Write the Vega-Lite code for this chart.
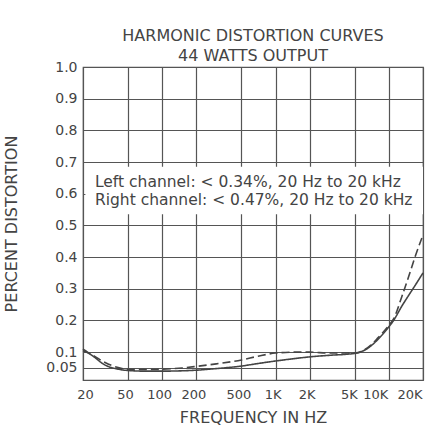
{
  "$schema": "https://vega.github.io/schema/vega-lite/v6.json",
  "width": 340,
  "height": 313,
  "autosize": "none",
  "padding": {"left": 83, "top": 67, "right": 8, "bottom": 53},
  "background": "white",
  "config": {
    "font": "DejaVu Sans",
    "view": {"stroke": "#555", "strokeWidth": 1.2}
  },
  "title": {
    "text": ["HARMONIC DISTORTION CURVES", "44 WATTS OUTPUT"],
    "fontSize": 16,
    "fontWeight": "normal",
    "color": "#444",
    "anchor": "middle",
    "lineHeight": 20,
    "offset": -4
  },
  "datasets": {
    "curves": [
      {"freq": 20, "dist": 0.11, "channel": "Left"},
      {"freq": 25, "dist": 0.085, "channel": "Left"},
      {"freq": 31, "dist": 0.06, "channel": "Left"},
      {"freq": 40, "dist": 0.047, "channel": "Left"},
      {"freq": 50, "dist": 0.042, "channel": "Left"},
      {"freq": 70, "dist": 0.04, "channel": "Left"},
      {"freq": 100, "dist": 0.04, "channel": "Left"},
      {"freq": 150, "dist": 0.041, "channel": "Left"},
      {"freq": 200, "dist": 0.043, "channel": "Left"},
      {"freq": 300, "dist": 0.048, "channel": "Left"},
      {"freq": 500, "dist": 0.056, "channel": "Left"},
      {"freq": 700, "dist": 0.064, "channel": "Left"},
      {"freq": 1000, "dist": 0.072, "channel": "Left"},
      {"freq": 1500, "dist": 0.08, "channel": "Left"},
      {"freq": 2000, "dist": 0.085, "channel": "Left"},
      {"freq": 3000, "dist": 0.09, "channel": "Left"},
      {"freq": 5000, "dist": 0.096, "channel": "Left"},
      {"freq": 6500, "dist": 0.112, "channel": "Left"},
      {"freq": 8000, "dist": 0.14, "channel": "Left"},
      {"freq": 10000, "dist": 0.18, "channel": "Left"},
      {"freq": 11000, "dist": 0.2, "channel": "Left"},
      {"freq": 13000, "dist": 0.245, "channel": "Left"},
      {"freq": 15000, "dist": 0.28, "channel": "Left"},
      {"freq": 17000, "dist": 0.31, "channel": "Left"},
      {"freq": 20000, "dist": 0.35, "channel": "Left"},
      {"freq": 20, "dist": 0.105, "channel": "Right"},
      {"freq": 25, "dist": 0.088, "channel": "Right"},
      {"freq": 31, "dist": 0.068, "channel": "Right"},
      {"freq": 40, "dist": 0.052, "channel": "Right"},
      {"freq": 50, "dist": 0.046, "channel": "Right"},
      {"freq": 70, "dist": 0.045, "channel": "Right"},
      {"freq": 100, "dist": 0.046, "channel": "Right"},
      {"freq": 150, "dist": 0.05, "channel": "Right"},
      {"freq": 200, "dist": 0.055, "channel": "Right"},
      {"freq": 300, "dist": 0.063, "channel": "Right"},
      {"freq": 500, "dist": 0.075, "channel": "Right"},
      {"freq": 700, "dist": 0.087, "channel": "Right"},
      {"freq": 1000, "dist": 0.097, "channel": "Right"},
      {"freq": 1500, "dist": 0.1, "channel": "Right"},
      {"freq": 2000, "dist": 0.1, "channel": "Right"},
      {"freq": 3000, "dist": 0.097, "channel": "Right"},
      {"freq": 5000, "dist": 0.097, "channel": "Right"},
      {"freq": 6500, "dist": 0.114, "channel": "Right"},
      {"freq": 8000, "dist": 0.145, "channel": "Right"},
      {"freq": 10000, "dist": 0.185, "channel": "Right"},
      {"freq": 11000, "dist": 0.205, "channel": "Right"},
      {"freq": 13000, "dist": 0.275, "channel": "Right"},
      {"freq": 15000, "dist": 0.34, "channel": "Right"},
      {"freq": 17000, "dist": 0.4, "channel": "Right"},
      {"freq": 20000, "dist": 0.47, "channel": "Right"}
    ],
    "box": [{"x1": 21, "x2": 20000, "y1": 0.535, "y2": 0.685}],
    "notes": [
      {"freq": 25.5, "dist": 0.621, "label": "Left channel: < 0.34%, 20 Hz to 20 kHz"},
      {"freq": 25.5, "dist": 0.564, "label": "Right channel: < 0.47%, 20 Hz to 20 kHz"}
    ]
  },
  "layer": [
    {
      "data": {"name": "box"},
      "mark": {"type": "rect", "fill": "white"},
      "encoding": {
        "x": {"field": "x1", "type": "quantitative", "scale": {"type": "log", "domain": [20, 20000], "nice": false, "padding": 0},
          "axis": {
            "values": [20, 50, 100, 200, 500, 1000, 2000, 5000, 10000, 20000],
            "tickCount": 30,
            "labelExpr": "datum.value >= 1000 ? (datum.value / 1000) + 'K' : datum.value",
            "title": "FREQUENCY IN HZ",
            "grid": true,
            "gridColor": "#555",
            "gridOpacity": 1,
            "gridWidth": 1.2,
            "domain": false,
            "ticks": false,
            "labelPadding": 8,
            "labelFontSize": 13,
            "labelColor": "#444",
            "labelFlush": false,
            "labelOverlap": false,
            "labelAlign": {"condition": {"test": "datum.value >= 10000", "value": "right"}, "value": "center"},
            "labelOffset": {"condition": [
              {"test": "datum.value == 20", "value": 2},
              {"test": "datum.value == 5000", "value": -6},
              {"test": "datum.value >= 10000", "value": -1}
            ], "value": -3},
            "titleFontSize": 16,
            "titleFontWeight": "normal",
            "titleColor": "#444",
            "titlePadding": 8
          }
        },
        "x2": {"field": "x2"},
        "y": {"field": "y1", "type": "quantitative", "scale": {"domain": [0.012, 1.0], "nice": false, "zero": false, "padding": 0},
          "axis": {
            "values": [0.05, 0.1, 0.2, 0.3, 0.4, 0.5, 0.6, 0.7, 0.8, 0.9, 1.0],
            "tickCount": 30,
            "format": ".2~f",
            "labelExpr": "datum.value >= 1 ? '1.0' : datum.label",
            "title": "PERCENT DISTORTION",
            "grid": true,
            "gridColor": "#555",
            "gridOpacity": 1,
            "gridWidth": 1.2,
            "domain": false,
            "ticks": false,
            "labelPadding": 6,
            "labelFontSize": 14,
            "labelColor": "#444",
            "labelFlush": false,
            "labelOverlap": false,
            "titleFontSize": 16,
            "titleFontWeight": "normal",
            "titleColor": "#444",
            "titlePadding": 26
          }
        },
        "y2": {"field": "y2"}
      }
    },
    {
      "data": {"name": "curves"},
      "mark": {"type": "line", "interpolate": "monotone", "color": "#444", "strokeWidth": 1.6},
      "encoding": {
        "x": {"field": "freq", "type": "quantitative"},
        "y": {"field": "dist", "type": "quantitative"},
        "detail": {"field": "channel"},
        "strokeDash": {
          "field": "channel", "type": "nominal",
          "scale": {"domain": ["Left", "Right"], "range": [[1, 0], [8, 4]]},
          "legend": null
        }
      }
    },
    {
      "data": {"name": "notes"},
      "mark": {"type": "text", "align": "left", "baseline": "alphabetic", "fontSize": 15.5, "color": "#444"},
      "encoding": {
        "x": {"field": "freq", "type": "quantitative"},
        "y": {"field": "dist", "type": "quantitative"},
        "text": {"field": "label"}
      }
    }
  ]
}
